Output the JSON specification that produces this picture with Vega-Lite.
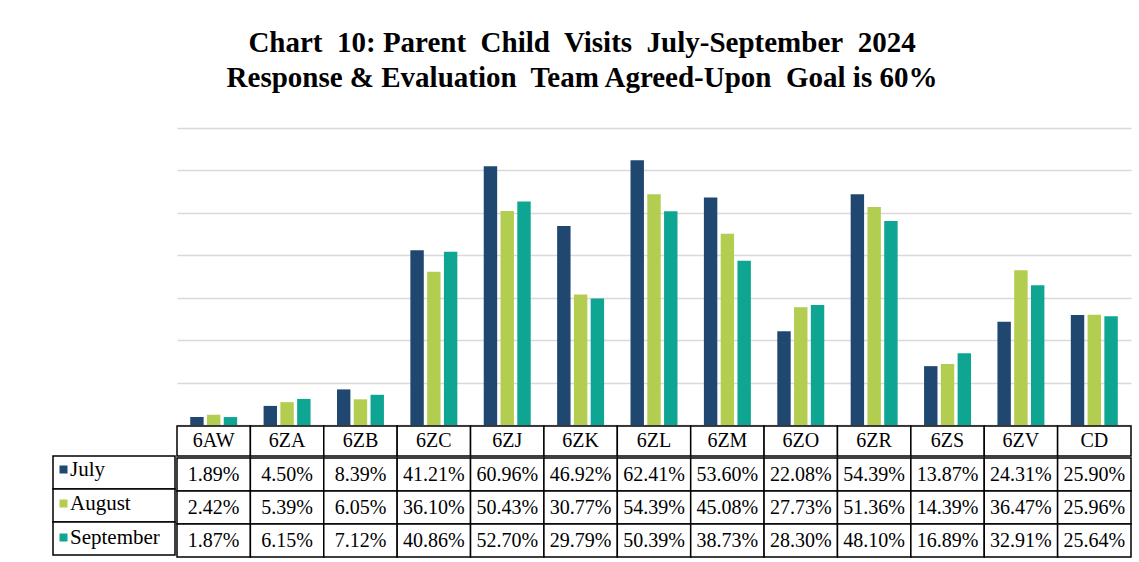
{
  "$schema": "https://vega.github.io/schema/vega-lite/v6.json",
  "background": "white",
  "padding": {"left": 52, "top": 29, "right": 0, "bottom": 0},
  "title": {
    "text": ["Chart\u00a0 10: Parent\u00a0 Child\u00a0 Visits\u00a0 July-September\u00a0 2024", "Response & Evaluation\u00a0 Team Agreed-Upon\u00a0 Goal is 60%"],
    "font": "Liberation Serif", "fontSize": 29, "fontWeight": "bold", "lineHeight": 35,
    "color": "black", "anchor": "middle", "offset": 35, "dx": -10
  },
  "config": {"view": {"stroke": null}},
  "datasets": {
    "d": [
      {"cat": "6AW", "month": "July", "v": 0.0189}, {"cat": "6AW", "month": "August", "v": 0.0242}, {"cat": "6AW", "month": "September", "v": 0.0187},
      {"cat": "6ZA", "month": "July", "v": 0.0450}, {"cat": "6ZA", "month": "August", "v": 0.0539}, {"cat": "6ZA", "month": "September", "v": 0.0615},
      {"cat": "6ZB", "month": "July", "v": 0.0839}, {"cat": "6ZB", "month": "August", "v": 0.0605}, {"cat": "6ZB", "month": "September", "v": 0.0712},
      {"cat": "6ZC", "month": "July", "v": 0.4121}, {"cat": "6ZC", "month": "August", "v": 0.3610}, {"cat": "6ZC", "month": "September", "v": 0.4086},
      {"cat": "6ZJ", "month": "July", "v": 0.6096}, {"cat": "6ZJ", "month": "August", "v": 0.5043}, {"cat": "6ZJ", "month": "September", "v": 0.5270},
      {"cat": "6ZK", "month": "July", "v": 0.4692}, {"cat": "6ZK", "month": "August", "v": 0.3077}, {"cat": "6ZK", "month": "September", "v": 0.2979},
      {"cat": "6ZL", "month": "July", "v": 0.6241}, {"cat": "6ZL", "month": "August", "v": 0.5439}, {"cat": "6ZL", "month": "September", "v": 0.5039},
      {"cat": "6ZM", "month": "July", "v": 0.5360}, {"cat": "6ZM", "month": "August", "v": 0.4508}, {"cat": "6ZM", "month": "September", "v": 0.3873},
      {"cat": "6ZO", "month": "July", "v": 0.2208}, {"cat": "6ZO", "month": "August", "v": 0.2773}, {"cat": "6ZO", "month": "September", "v": 0.2830},
      {"cat": "6ZR", "month": "July", "v": 0.5439}, {"cat": "6ZR", "month": "August", "v": 0.5136}, {"cat": "6ZR", "month": "September", "v": 0.4810},
      {"cat": "6ZS", "month": "July", "v": 0.1387}, {"cat": "6ZS", "month": "August", "v": 0.1439}, {"cat": "6ZS", "month": "September", "v": 0.1689},
      {"cat": "6ZV", "month": "July", "v": 0.2431}, {"cat": "6ZV", "month": "August", "v": 0.3647}, {"cat": "6ZV", "month": "September", "v": 0.3291},
      {"cat": "CD", "month": "July", "v": 0.2590}, {"cat": "CD", "month": "August", "v": 0.2596}, {"cat": "CD", "month": "September", "v": 0.2564}
    ],
    "cats": [
      {"cat": "6AW"}, {"cat": "6ZA"}, {"cat": "6ZB"}, {"cat": "6ZC"}, {"cat": "6ZJ"}, {"cat": "6ZK"}, {"cat": "6ZL"},
      {"cat": "6ZM"}, {"cat": "6ZO"}, {"cat": "6ZR"}, {"cat": "6ZS"}, {"cat": "6ZV"}, {"cat": "CD"}
    ],
    "months": [{"month": "July"}, {"month": "August"}, {"month": "September"}]
  },
  "resolve": {"scale": {"x": "independent", "y": "independent", "color": "independent"}},
  "spacing": 0,
  "hconcat": [
    {
      "spacing": 0,
      "vconcat": [
        {
          "width": 122, "height": 327,
          "data": {"values": []},
          "mark": {"type": "point", "opacity": 0},
          "encoding": {}
        },
        {
          "width": 122, "height": 99,
          "data": {"name": "months"},
          "layer": [
            {
              "mark": {"type": "rect"},
              "encoding": {
                "y": {"field": "month", "type": "nominal", "axis": null,
                      "scale": {"domain": ["July", "August", "September"], "paddingInner": 0, "paddingOuter": 0}},
                "color": {"field": "month", "type": "nominal",
                          "scale": {"domain": ["July", "August", "September"], "range": ["#1f4770", "#b2cd4f", "#0ea593"]},
                          "legend": {"orient": "none", "legendX": 0, "legendY": 331, "direction": "vertical", "title": null,
                                     "symbolType": "square", "symbolSize": 64, "symbolStrokeWidth": 0,
                                     "labelFont": "Liberation Serif", "labelFontSize": 21, "labelColor": "black",
                                     "labelOffset": -4, "rowPadding": 12, "padding": 0}}
              }
            },
            {
              "mark": {"type": "rect", "fill": "white", "stroke": "black", "strokeWidth": 1.5},
              "encoding": {
                "y": {"field": "month", "type": "nominal", "axis": null,
                      "scale": {"domain": ["July", "August", "September"], "paddingInner": 0, "paddingOuter": 0}}
              }
            }
          ]
        }
      ]
    },
    {
      "spacing": 0,
      "vconcat": [
        {
          "width": 954, "height": 297,
          "data": {"name": "d"},
          "mark": {"type": "bar"},
          "encoding": {
            "x": {"field": "cat", "type": "nominal", "axis": null,
                  "scale": {"domain": ["6AW","6ZA","6ZB","6ZC","6ZJ","6ZK","6ZL","6ZM","6ZO","6ZR","6ZS","6ZV","CD"], "paddingInner": 0.36, "paddingOuter": 0.18}},
            "xOffset": {"field": "month", "type": "nominal",
                        "scale": {"domain": ["July", "August", "September"], "paddingInner": 0.2, "paddingOuter": 0}},
            "y": {"field": "v", "type": "quantitative",
                  "scale": {"domain": [0, 0.7], "nice": false},
                  "axis": {"values": [0, 0.1, 0.2, 0.3, 0.4, 0.5, 0.6, 0.7], "labels": false, "ticks": false, "domain": false,
                           "title": null, "grid": true, "gridColor": "#d9d9d9", "gridWidth": 1.5}},
            "color": {"field": "month", "type": "nominal",
                      "scale": {"domain": ["July", "August", "September"], "range": ["#1f4770", "#b2cd4f", "#0ea593"]},
                      "legend": null}
          }
        },
        {
          "width": 954, "height": 30,
          "data": {"name": "cats"},
          "encoding": {
            "x": {"field": "cat", "type": "nominal", "axis": null,
                  "scale": {"domain": ["6AW","6ZA","6ZB","6ZC","6ZJ","6ZK","6ZL","6ZM","6ZO","6ZR","6ZS","6ZV","CD"], "paddingInner": 0, "paddingOuter": 0}}
          },
          "layer": [
            {"mark": {"type": "rect", "fill": "white", "stroke": "black", "strokeWidth": 1.5}},
            {"mark": {"type": "text", "font": "Liberation Serif", "fontSize": 20, "color": "black", "baseline": "middle", "align": "center"},
             "encoding": {"text": {"field": "cat"}}}
          ]
        },
        {
          "width": 954, "height": 99,
          "data": {"name": "d"},
          "encoding": {
            "x": {"field": "cat", "type": "nominal", "axis": null,
                  "scale": {"domain": ["6AW","6ZA","6ZB","6ZC","6ZJ","6ZK","6ZL","6ZM","6ZO","6ZR","6ZS","6ZV","CD"], "paddingInner": 0, "paddingOuter": 0}},
            "y": {"field": "month", "type": "nominal", "axis": null,
                  "scale": {"domain": ["July", "August", "September"], "paddingInner": 0, "paddingOuter": 0}}
          },
          "layer": [
            {"mark": {"type": "rect", "fill": "white", "stroke": "black", "strokeWidth": 1.5}},
            {"mark": {"type": "text", "font": "Liberation Serif", "fontSize": 20, "color": "black", "baseline": "middle", "align": "center"},
             "encoding": {"text": {"field": "v", "type": "quantitative", "format": ".2%"}}}
          ]
        }
      ]
    }
  ]
}
